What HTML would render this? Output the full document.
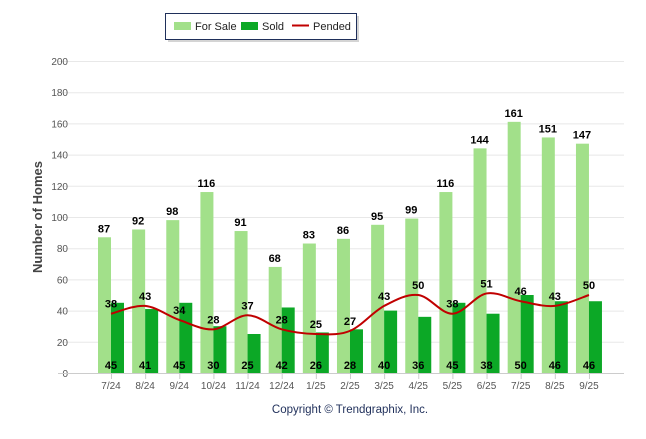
<!DOCTYPE html>
<html><head><meta charset="utf-8"><style>
body{margin:0;background:#fff;font-family:"Liberation Sans",sans-serif;}
svg text{font-family:"Liberation Sans",sans-serif;}
</style></head><body>
<svg id="chart" width="646" height="434" xmlns="http://www.w3.org/2000/svg">
<g id="grid"></g>
<g id="bars"></g>
<g id="line"></g>
<g id="labels"></g>
<g>
<rect x="168" y="16" width="191" height="26" fill="#aaa" opacity="0.5"/>
<rect x="165.5" y="13.5" width="191" height="26" fill="#fff" stroke="#1f2f5a" stroke-width="1"/>
<rect x="174" y="22" width="17" height="8" fill="#a2e08a"/>
<text x="195" y="30" font-size="11" fill="#222">For Sale</text>
<rect x="241" y="22" width="17" height="8" fill="#0ca826"/>
<text x="262" y="30" font-size="11" fill="#222">Sold</text>
<line x1="292" y1="25.5" x2="309" y2="25.5" stroke="#c00000" stroke-width="2"/>
<text x="313" y="30" font-size="11" fill="#222">Pended</text>
</g>
<text transform="translate(42,217) rotate(-90)" text-anchor="middle" font-size="13" font-weight="bold" fill="#444">Number of Homes</text>
<text x="350" y="413" text-anchor="middle" font-size="11.5" fill="#1f2f5a">Copyright © Trendgraphix, Inc.</text>
</svg>
<script>
const categories=["7/24","8/24","9/24","10/24","11/24","12/24","1/25","2/25","3/25","4/25","5/25","6/25","7/25","8/25","9/25"];
const forSale=[87,92,98,116,91,68,83,86,95,99,116,144,161,151,147];
const sold=[45,41,45,30,25,42,26,28,40,36,45,38,50,46,46];
const pended=[38,43,34,28,37,28,25,27,43,50,38,51,46,43,50];
const yTicks=[0,20,40,60,80,100,120,140,160,180,200];
const NS="http://www.w3.org/2000/svg";
function y(v){return 373-v*1.56;}
function x(i){return 111+i*34.14;}
function mk(tag,attrs,parent){const e=document.createElementNS(NS,tag);for(const k in attrs)e.setAttribute(k,attrs[k]);document.getElementById(parent).appendChild(e);return e;}
yTicks.forEach(t=>{
  const l=mk('line',{x1:58,x2:624,y1:y(t)+0.5,y2:y(t)+0.5,stroke:'#e8e8e8'},'grid');
  
  
  const tx=mk('text',{x:68,y:y(t)+4,'text-anchor':'end','font-size':10,fill:'#555'},'grid');
  tx.textContent=t;
  
  
});
mk('line',{x1:58,x2:624,y1:373.5,y2:373.5,stroke:'#ccc'},'grid');
categories.forEach((c,i)=>{
  mk('line',{x1:x(i)+0.5,x2:x(i)+0.5,y1:374,y2:379,stroke:'#ccc'},'grid');
  const tx=mk('text',{x:x(i),y:389,'text-anchor':'middle','font-size':10,fill:'#555'},'grid');
  tx.textContent=c;
  
  
  const b1=mk('rect',{x:x(i)-13,y:y(forSale[i]),width:13,height:forSale[i]*1.56,fill:'#a2e08a'},'bars');
  
  
  const b2=mk('rect',{x:x(i),y:y(sold[i]),width:13,height:sold[i]*1.56,fill:'#0ca826'},'bars');
  
  
  const l1=mk('text',{x:x(i)-7,y:y(forSale[i])-5,'text-anchor':'middle','font-size':11,'font-weight':'bold',fill:'#000'},'labels');
  l1.textContent=forSale[i];
  
  
  const l2=mk('text',{x:x(i),y:369,'text-anchor':'middle','font-size':11,'font-weight':'bold',fill:'#000'},'labels');
  l2.textContent=sold[i];
  
  
  const l3=mk('text',{x:x(i),y:y(pended[i])-6,'text-anchor':'middle','font-size':11,'font-weight':'bold',fill:'#000'},'labels');
  l3.textContent=pended[i];
  
  
});
const pts=pended.map((v,i)=>[x(i),y(v)]);
let d=`M${pts[0][0]},${pts[0][1]}`;
for(let i=0;i<pts.length-1;i++){
  const p0=pts[Math.max(0,i-1)],p1=pts[i],p2=pts[i+1],p3=pts[Math.min(pts.length-1,i+2)];
  const c1=[p1[0]+(p2[0]-p0[0])/6,p1[1]+(p2[1]-p0[1])/6];
  const c2=[p2[0]-(p3[0]-p1[0])/6,p2[1]-(p3[1]-p1[1])/6];
  d+=` C${c1[0]},${c1[1]} ${c2[0]},${c2[1]} ${p2[0]},${p2[1]}`;
}
const path=mk('path',{d:d,fill:'none',stroke:'#c00000','stroke-width':2},'line');


</script>
</body></html>
